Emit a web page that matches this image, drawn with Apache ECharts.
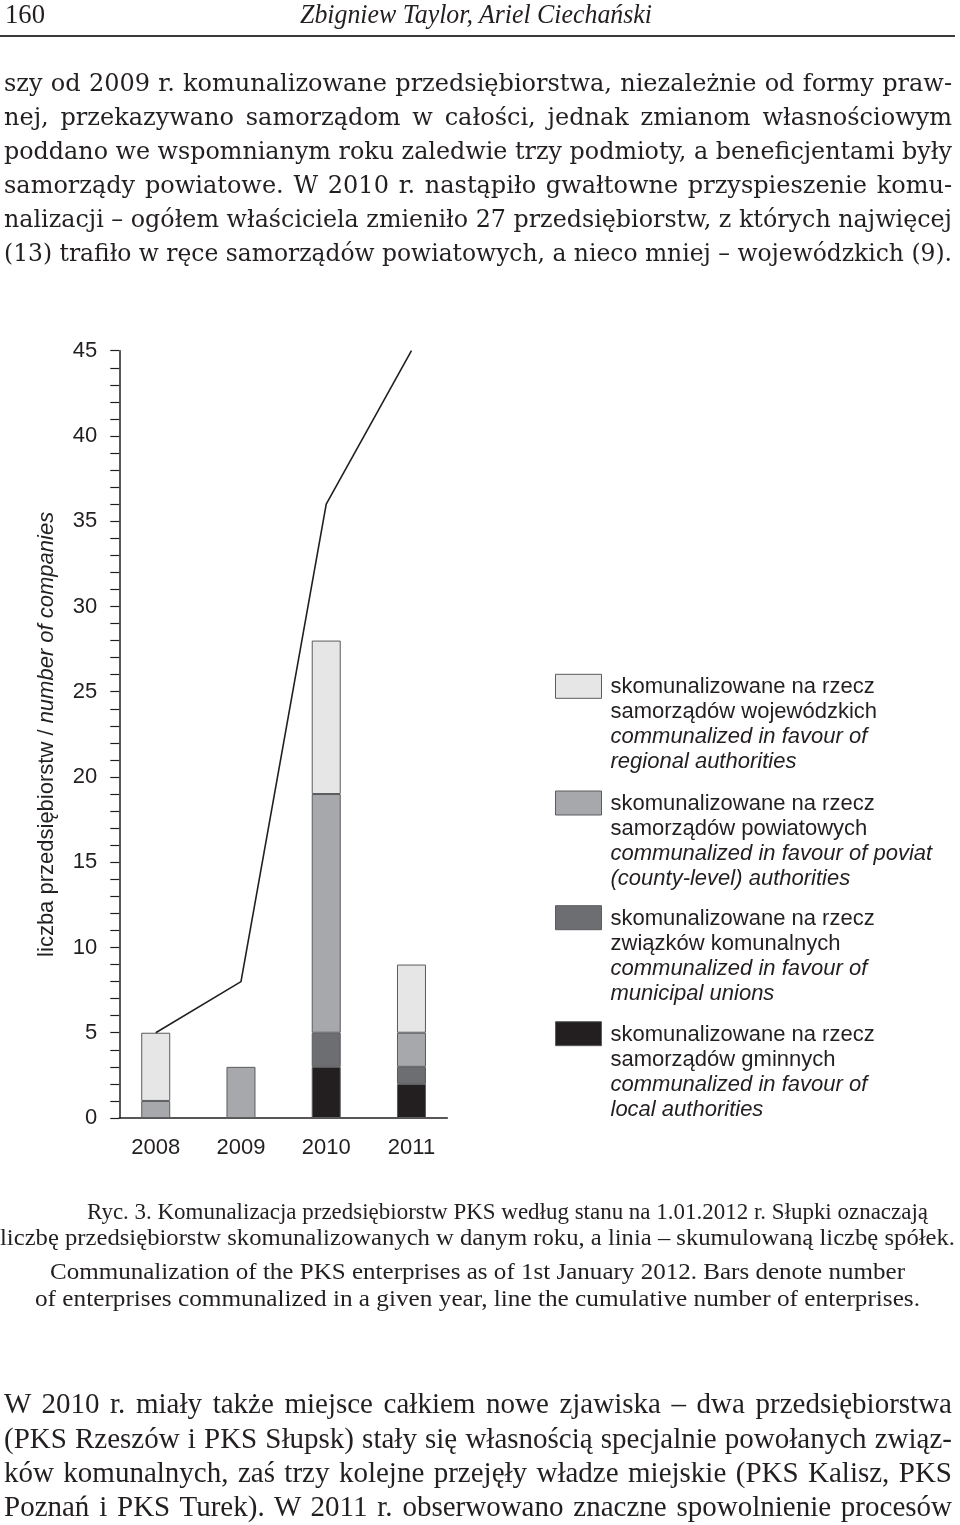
<!DOCTYPE html>
<html>
<head>
<meta charset="utf-8">
<script src="https://cdn.jsdelivr.net/npm/echarts@6/dist/echarts.min.js"></script>
<style>
  html, body { margin: 0; padding: 0; background: #fff; }
  #page { position: relative; width: 960px; height: 1525px; overflow: hidden; background: #fff; }
  #chart { position: absolute; left: 0; top: 0; width: 960px; height: 1525px; }
  .ln { position: absolute; white-space: pre; color: #231f20; transform-origin: 0 50%; z-index: 2; }
  .body { font-family: "DejaVu Serif", serif; font-size: 24px; line-height: 30px; }
  .cap { font-family: "Liberation Serif", serif; font-size: 23px; line-height: 28px; }
  .body2 { font-family: "Liberation Serif", serif; font-size: 29px; line-height: 34px; }
  .head { font-family: "Liberation Serif", serif; font-size: 28px; line-height: 32px; }
  #rule { position: absolute; left: 0; top: 35px; width: 955px; height: 2px; background: #3a3a3a; z-index: 2; }
</style>
</head>
<body>
<div id="page">
  <div id="chart"></div>
  <div id="rule"></div>
  <div id="texts"></div>
</div>
<script>
// ---------------- data ----------------
const years = ['2008', '2009', '2010', '2011'];
const regional = [4, 0, 9, 4];     // samorządy wojewódzkie
const powiat   = [1, 3, 14, 2];    // samorządy powiatowe
const unions   = [0, 0, 2, 1];     // związki komunalne
const local    = [0, 0, 3, 2];     // samorządy gminne
const cumulative = [5, 8, 36, 45]; // line: cumulative number of companies
const yMin = 0, yMax = 45, yStep = 5;

const yAxisTitlePl = 'liczba przedsiębiorstw / ';
const yAxisTitleEn = 'number of companies';

const legendTexts = {
  regional: ['skomunalizowane na rzecz', 'samorządów wojewódzkich', 'communalized in favour of', 'regional authorities'],
  powiat:   ['skomunalizowane na rzecz', 'samorządów powiatowych', 'communalized in favour of poviat', '(county-level) authorities'],
  unions:   ['skomunalizowane na rzecz', 'związków komunalnych', 'communalized in favour of', 'municipal unions'],
  local:    ['skomunalizowane na rzecz', 'samorządów gminnych', 'communalized in favour of', 'local authorities']
};

// ---------------- page text ----------------
const headerLeft = '160';
const headerTitle = 'Zbigniew Taylor, Ariel Ciechański';
const para1 = [
  'szy od 2009 r. komunalizowane przedsiębiorstwa, niezależnie od formy praw-',
  'nej, przekazywano samorządom w całości, jednak zmianom własnościowym',
  'poddano we wspomnianym roku zaledwie trzy podmioty, a beneficjentami były',
  'samorządy powiatowe. W 2010 r. nastąpiło gwałtowne przyspieszenie komu-',
  'nalizacji – ogółem właściciela zmieniło 27 przedsiębiorstw, z których najwięcej',
  '(13) trafiło w ręce samorządów powiatowych, a nieco mniej – wojewódzkich (9).'
];
const caption = [
  'Ryc. 3. Komunalizacja przedsiębiorstw PKS według stanu na 1.01.2012 r. Słupki oznaczają',
  'liczbę przedsiębiorstw skomunalizowanych w danym roku, a linia – skumulowaną liczbę spółek.',
  'Communalization of the PKS enterprises as of 1st January 2012. Bars denote number',
  'of enterprises communalized in a given year, line the cumulative number of enterprises.'
];
const para2 = [
  'W 2010 r. miały także miejsce całkiem nowe zjawiska – dwa przedsiębiorstwa',
  '(PKS Rzeszów i PKS Słupsk) stały się własnością specjalnie powołanych związ-',
  'ków komunalnych, zaś trzy kolejne przejęły władze miejskie (PKS Kalisz, PKS',
  'Poznań i PKS Turek). W 2011 r. obserwowano znaczne spowolnienie procesów'
];

const texts = document.getElementById('texts');
function addLine(txt, cls, left, centerY, target, mode, lh, italic) {
  const el = document.createElement('span');
  el.className = 'ln ' + cls;
  el.textContent = txt;
  el.style.left = left + 'px';
  el.style.top = (centerY - lh / 2) + 'px';
  if (italic) el.style.fontStyle = 'italic';
  texts.appendChild(el);
  const w = el.getBoundingClientRect().width;
  if (mode === 'justify' && w < target) {
    const n = (txt.match(/ /g) || []).length;
    if (n) el.style.wordSpacing = ((target - w) / n) + 'px';
  } else {
    el.style.transform = 'scaleX(' + (target / w) + ')';
  }
}
addLine(headerLeft, 'head', 5, 14, 40, 'scale', 32, false);
addLine(headerTitle, 'head', 300, 14, 352, 'scale', 32, true);
const p1y = [83, 117, 151, 185, 219, 253];
para1.forEach((t, i) => addLine(t, 'body', 4, p1y[i], 948, 'justify', 30, false));
const capPos = [[87, 928, 1212], [0, 955, 1238], [50, 905, 1272], [35, 920, 1299]];
caption.forEach((t, i) => addLine(t, 'cap', capPos[i][0], capPos[i][2], capPos[i][1] - capPos[i][0], 'scale', 28, false));
const p2y = [1403, 1438, 1472, 1506];
para2.forEach((t, i) => addLine(t, 'body2', 4, p2y[i], 948, 'justify', 34, false));

// ---------------- chart ----------------
const chart = echarts.init(document.getElementById('chart'), null, { renderer: 'canvas' });
const ink = '#231f20';
const font = 'Liberation Sans, Arial, sans-serif';
const colors = { regional: '#e6e6e7', powiat: '#a7a8ab', unions: '#6d6e71', local: '#231f20' };
const border = '#5b5c5e';
const nz = arr => arr.map(v => (v === 0 ? '-' : v));

function legendFormatter(key) {
  const l = legendTexts[key];
  return '{r|' + l[0] + '}\n{r|' + l[1] + '}\n{i|' + l[2] + '}\n{i|' + l[3] + '}';
}
const legendRich = {
  r: { fontSize: 22, fontFamily: font, color: ink, lineHeight: 25 },
  i: { fontSize: 22, fontFamily: font, color: ink, lineHeight: 25, fontStyle: 'italic' }
};
const legendIconTops = { regional: 674.3, powiat: 791, unions: 905.7, local: 1021.7 };
const legendNames = { regional: 'wojewódzkie', powiat: 'powiatowe', unions: 'związki komunalne', local: 'gminne' };
const legends = ['regional', 'powiat', 'unions', 'local'].map(key => ({
  data: [legendNames[key]],
  orient: 'vertical',
  left: 555,
  top: legendIconTops[key] - 76.5,
  padding: 0,
  itemWidth: 46,
  itemHeight: 24,
  selectedMode: false,
  icon: 'rect',
  itemStyle: { borderColor: border, borderWidth: 1 },
  formatter: () => legendFormatter(key),
  textStyle: { padding: [77, 0, 0, 4], rich: legendRich, fontSize: 22, lineHeight: 25 }
}));

const gridTop = 350.7, gridHeight = 767.3;
const barSeries = (key, data) => ({
  name: legendNames[key],
  type: 'bar',
  stack: 'year',
  xAxisIndex: 0,
  yAxisIndex: 0,
  barWidth: 29,
  data: nz(data),
  itemStyle: { color: colors[key], borderColor: border, borderWidth: 1 },
  emphasis: { disabled: true },
  z: 2
});

const option = {
  animation: false,
  backgroundColor: 'transparent',
  textStyle: { fontFamily: font },
  grid: [
    { left: 113.1, top: gridTop, width: 341, height: gridHeight },
    { left: 119.3, top: gridTop, width: 328, height: gridHeight }
  ],
  legend: legends,
  xAxis: [
    {
      gridIndex: 0, type: 'category', data: years,
      axisLine: { show: false }, axisTick: { show: false },
      axisLabel: { fontSize: 22, color: ink, fontFamily: font, margin: 19 },
      splitLine: { show: false }
    },
    {
      gridIndex: 1, type: 'value', min: 0, max: 1,
      axisLine: { show: true, onZero: false, lineStyle: { color: ink, width: 1.5 } },
      axisTick: { show: false }, axisLabel: { show: false }, splitLine: { show: false }
    }
  ],
  yAxis: [
    { gridIndex: 0, type: 'value', min: yMin, max: yMax, interval: yStep, show: false },
    {
      gridIndex: 1, type: 'value', min: yMin, max: yMax, interval: yStep,
      axisLine: { show: true, lineStyle: { color: ink, width: 1.5 } },
      axisTick: { show: true, length: 9, lineStyle: { color: ink, width: 1.2 } },
      minorTick: { show: true, splitNumber: 5, length: 9, lineStyle: { color: ink, width: 1.2 } },
      splitLine: { show: false }, minorSplitLine: { show: false },
      axisLabel: { fontSize: 22, color: ink, fontFamily: font, margin: 22 },
      name: '{r|' + yAxisTitlePl + '}{i|' + yAxisTitleEn + '}',
      nameLocation: 'middle',
      nameRotate: 90,
      nameGap: 61,
      nameTextStyle: {
        rich: {
          r: { fontSize: 22, fontFamily: font, color: ink },
          i: { fontSize: 22, fontFamily: font, color: ink, fontStyle: 'italic' }
        }
      }
    }
  ],
  series: [
    barSeries('local', local),
    barSeries('unions', unions),
    barSeries('powiat', powiat),
    barSeries('regional', regional),
    {
      name: 'cumulative',
      type: 'line',
      xAxisIndex: 0,
      yAxisIndex: 0,
      data: cumulative,
      symbol: 'none',
      lineStyle: { color: ink, width: 1.6 },
      emphasis: { disabled: true },
      z: 5
    }
  ]
};
chart.setOption(option);
</script>
</body>
</html>
